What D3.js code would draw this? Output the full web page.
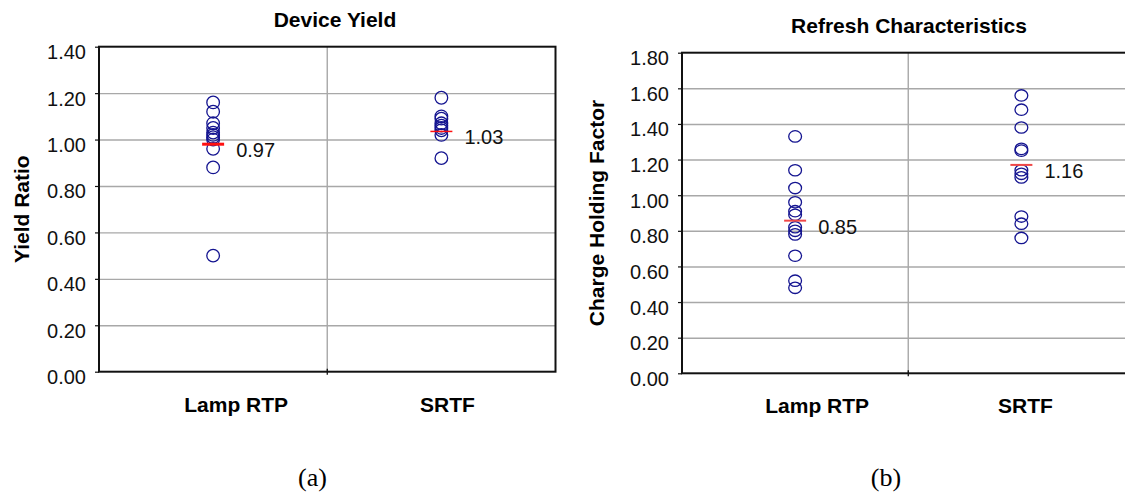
<!DOCTYPE html>
<html>
<head>
<meta charset="utf-8">
<script src="https://cdn.jsdelivr.net/npm/d3@7"></script>
<style>
    body { margin: 0; background: #fff; }
    svg { display: block; font-family: "Liberation Sans", Arial, Helvetica, sans-serif; }
</style>
</head>
<body>
<div id="chart"></div>
<script>
// ---- data ----
const categories = ["Lamp RTP", "SRTF"];

// (a) Device Yield
const yieldLamp = [1.16, 1.12, 1.07, 1.05, 1.03, 1.02, 1.01, 1.00, 0.96, 0.88, 0.50];
const yieldSrtf = [1.18, 1.10, 1.09, 1.07, 1.06, 1.05, 1.04, 1.02, 0.92];
const yieldMeans = [0.98, 1.035];
const yieldMeanLabels = ["0.97", "1.03"];
const yieldTicks = [0, 0.2, 0.4, 0.6, 0.8, 1.0, 1.2, 1.4];

// (b) Refresh Characteristics
const chargeLamp = [1.33, 1.14, 1.04, 0.96, 0.91, 0.89, 0.82, 0.80, 0.78, 0.66, 0.52, 0.48];
const chargeSrtf = [1.56, 1.48, 1.38, 1.26, 1.25, 1.14, 1.12, 1.10, 0.88, 0.84, 0.76];
const chargeMeans = [0.857, 1.17];
const chargeMeanLabels = ["0.85", "1.16"];
const chargeTicks = [0, 0.2, 0.4, 0.6, 0.8, 1.0, 1.2, 1.4, 1.6, 1.8];

class DotPanel {
    constructor(_config, _data) {
        this.config = {
            parent: _config.parent,
            margin: _config.margin,
            width: _config.width,
            height: _config.height,
            ticks: _config.ticks,
            title: _config.title,
            titleX: _config.titleX,
            titleY: _config.titleY,
            yTitle: _config.yTitle,
            yTitleX: _config.yTitleX,
            rx: _config.rx,
            ry: _config.ry,
            meanStroke: _config.meanStroke,
            meanWidth: _config.meanWidth,
            labelShift: _config.labelShift
        }
        this.data = _data;
        this.initVis();
    }

    initVis() {
        let vis = this;
        const c = vis.config;

        vis.xScale = d3.scaleBand()
            .domain(categories)
            .range([0, c.width]);

        vis.yScale = d3.scaleLinear()
            .domain([0, d3.max(c.ticks)])
            .range([c.height, 0]);

        vis.g = c.parent.append('g')
            .attr('transform', `translate(${c.margin.left},${c.margin.top})`);

        // horizontal grid
        vis.g.append('g')
            .call(d3.axisLeft(vis.yScale).tickValues(c.ticks.slice(1, -1)).tickSize(-c.width).tickFormat(''))
            .call(g => g.select('.domain').remove())
            .call(g => g.selectAll('line').attr('stroke', '#a8a8a8').attr('stroke-width', 1.4));

        // vertical divider between categories
        vis.g.append('line')
            .attr('x1', vis.xScale(categories[1])).attr('x2', vis.xScale(categories[1]))
            .attr('y1', 0).attr('y2', c.height)
            .attr('stroke', '#a8a8a8').attr('stroke-width', 1.4);
        vis.g.append('line')
            .attr('x1', vis.xScale(categories[1])).attr('x2', vis.xScale(categories[1]))
            .attr('y1', c.height - 3).attr('y2', c.height + 3)
            .attr('stroke', '#000').attr('stroke-width', 1.2);

        // frame
        vis.g.append('rect')
            .attr('width', c.width).attr('height', c.height)
            .attr('fill', 'none').attr('stroke', '#111').attr('stroke-width', 2);

        // y axis
        vis.g.append('g')
            .call(d3.axisLeft(vis.yScale).tickValues(c.ticks).tickSize(4).tickPadding(9).tickFormat(d3.format('.2f')))
            .call(g => g.select('.domain').remove())
            .call(g => g.selectAll('line').attr('stroke', '#111').attr('stroke-width', 1.2))
            .call(g => g.selectAll('text').attr('font-size', 20).attr('fill', '#111')
                .attr('font-family', '"Liberation Sans", Arial, sans-serif').attr('dy', '0.6em'));

        // category labels
        vis.g.selectAll('.cat')
            .data(categories)
            .join('text')
            .attr('class', 'cat')
            .attr('x', (d, i) => vis.xScale(d) + vis.xScale.bandwidth() / 2 + c.labelShift[i])
            .attr('y', c.height + 40)
            .attr('text-anchor', 'middle')
            .attr('font-size', 21).attr('font-weight', 'bold')
            .text(d => d);

        // titles
        c.parent.append('text')
            .attr('x', c.titleX).attr('y', c.titleY)
            .attr('text-anchor', 'middle')
            .attr('font-size', 21).attr('font-weight', 'bold')
            .text(c.title);

        c.parent.append('text')
            .attr('transform', `translate(${c.yTitleX},${c.margin.top + c.height / 2}) rotate(-90)`)
            .attr('text-anchor', 'middle')
            .attr('dy', '0.36em')
            .attr('font-size', 21).attr('font-weight', 'bold')
            .text(c.yTitle);

        vis.renderVis();
    }

    renderVis() {
        let vis = this;
        const c = vis.config;
        const cx = d => vis.xScale(d.cat) + vis.xScale.bandwidth() / 2;

        const points = vis.data.flatMap(s => s.values.map(v => ({ cat: s.cat, v: v })));

        vis.g.selectAll('.dot')
            .data(points)
            .join('ellipse')
            .attr('class', 'dot')
            .attr('cx', d => cx(d))
            .attr('cy', d => vis.yScale(d.v))
            .attr('rx', c.rx).attr('ry', c.ry)
            .attr('fill', 'none')
            .attr('stroke', '#141490')
            .attr('stroke-width', 1.3);

        vis.g.selectAll('.mean')
            .data(vis.data)
            .join('line')
            .attr('class', 'mean')
            .attr('x1', d => cx(d) - 11).attr('x2', d => cx(d) + 11)
            .attr('y1', d => vis.yScale(d.mean)).attr('y2', d => vis.yScale(d.mean))
            .attr('stroke', c.meanStroke)
            .attr('stroke-width', (d, i) => c.meanWidth[i]);

        vis.g.selectAll('.meanLabel')
            .data(vis.data)
            .join('text')
            .attr('class', 'meanLabel')
            .attr('x', d => cx(d) + 23)
            .attr('y', d => vis.yScale(d.mean) + 13)
            .attr('font-size', 20).attr('fill', '#111')
            .text(d => d.label);
    }
}

const svg = d3.select('#chart').append('svg')
    .attr('width', 1125)
    .attr('height', 493);

const yieldData = categories.map((cat, i) => ({
    cat: cat, values: [yieldLamp, yieldSrtf][i], mean: yieldMeans[i], label: yieldMeanLabels[i]
}));
const chargeData = categories.map((cat, i) => ({
    cat: cat, values: [chargeLamp, chargeSrtf][i], mean: chargeMeans[i], label: chargeMeanLabels[i]
}));

new DotPanel({
    parent: svg,
    margin: { left: 99, top: 46.7 },
    width: 456.5, height: 325,
    ticks: yieldTicks,
    title: 'Device Yield', titleX: 335, titleY: 26.5,
    yTitle: 'Yield Ratio', yTitleX: 21.5,
    rx: 6.3, ry: 6.3,
    meanStroke: '#ff1010', meanWidth: [3, 1.5],
    labelShift: [23, 6]
}, yieldData);

new DotPanel({
    parent: svg,
    margin: { left: 682, top: 52.7 },
    width: 452.5, height: 320.6,
    ticks: chargeTicks,
    title: 'Refresh Characteristics', titleX: 909, titleY: 33,
    yTitle: 'Charge Holding Factor', yTitleX: 596,
    rx: 6.4, ry: 5.7,
    meanStroke: '#f04848', meanWidth: [2, 2],
    labelShift: [22, 4]
}, chargeData);

// sub-figure captions
svg.selectAll('.caption')
    .data(['(a)', '(b)'])
    .join('text')
    .attr('class', 'caption')
    .attr('x', (d, i) => [312.5, 886][i])
    .attr('y', 486)
    .attr('text-anchor', 'middle')
    .attr('font-family', '"Liberation Serif", "Times New Roman", serif')
    .attr('font-size', 26)
    .text(d => d);
</script>
</body>
</html>
